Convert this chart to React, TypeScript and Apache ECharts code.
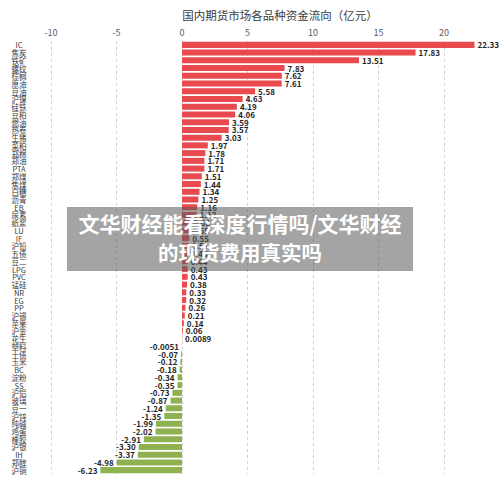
import React, { useEffect, useRef } from "react";
import * as echarts from "echarts";

const categories = [
  "IC", "焦炭", "铁矿", "螺纹", "棕榈", "原油", "豆油", "沪镍", "硅铁", "豆粕",
  "燃油", "热卷", "生猪", "菜粕", "郑棉", "郑油", "PTA", "郑煤", "焦煤", "白糖",
  "沥青", "EB", "尿素", "纸浆", "LU", "IF", "沪铅", "五债", "豆二", "LPG",
  "PVC", "锰硅", "NR", "EG", "PP", "沪锡", "苹果", "沪金", "花生", "塑料",
  "十债", "玉米", "BC", "淀粉", "SS", "沪铝", "玻璃", "豆一", "沪锌", "纯碱",
  "鸡蛋", "橡胶", "沪银", "IH", "郑醇", "沪铜",
];

const values = [
  22.33, 17.83, 13.51, 7.83, 7.62, 7.61, 5.58, 4.63, 4.19, 4.06,
  3.59, 3.57, 3.03, 1.97, 1.78, 1.71, 1.71, 1.51, 1.44, 1.34,
  1.25, 1.16, 1.12, 0.63, 0.55, 0.55, 0.51, 0.45, 0.44, 0.43,
  0.43, 0.38, 0.33, 0.32, 0.26, 0.21, 0.14, 0.06, 0.0089, -0.0051,
  -0.07, -0.12, -0.18, -0.34, -0.35, -0.73, -0.87, -1.24, -1.35, -1.99,
  -2.02, -2.91, -3.3, -3.37, -4.98, -6.23,
];

const xTicks = { min: -10, max: 25, interval: 5 };

const titleText = "国内期货市场各品种资金流向（亿元）";
const watermarkLines = ["文华财经能看深度行情吗/文华财经", "的现货费用真实吗"];

const FONT = "'Noto Sans CJK SC', 'Noto Sans', sans-serif";
const RED = "#E84A4F";
const GREEN = "#8DB24F";

function fmt(v: number): string {
  if (Math.abs(v) >= 0.01) return v.toFixed(2);
  return String(v);
}

export default function App() {
  const ref = useRef<HTMLDivElement>(null);

  useEffect(() => {
    document.body.style.margin = "0";
    document.body.style.overflow = "hidden";
    if (!ref.current) return;
    const chart = echarts.init(ref.current, undefined, { renderer: "svg" });
    chart.setOption({
      animation: false,
      backgroundColor: "#ffffff",
      textStyle: { fontFamily: FONT },
      grid: {
        left: 51,
        right: 2.5,
        top: 41,
        bottom: 5,
        containLabel: false,
        outerBoundsMode: "none",
      },
      xAxis: {
        type: "value",
        position: "top",
        min: xTicks.min,
        max: xTicks.max,
        interval: xTicks.interval,
        axisLine: { show: false },
        axisTick: { show: false },
        axisLabel: {
          color: "#595959",
          fontSize: 9,
          margin: 4,
          showMaxLabel: false,
          fontFamily: FONT,
        },
        splitLine: {
          show: true,
          lineStyle: { color: "#D0D0D0", type: [3, 3], width: 1 },
        },
      },
      yAxis: {
        type: "category",
        data: categories,
        inverse: true,
        axisLine: { show: false },
        axisTick: { show: false },
        axisLabel: {
          interval: 0,
          color: "#3a3a3a",
          fontSize: 7.5,
          lineHeight: 8,
          align: "center",
          margin: 32,
          fontFamily: FONT,
        },
        splitLine: { show: false },
      },
      series: [
        {
          type: "bar",
          data: values.map((v) => ({
            value: v,
            itemStyle: { color: v >= 0 ? RED : GREEN },
            label: { position: v >= 0 ? "right" : "left" },
          })),
          barCategoryGap: "22%",
          label: {
            show: true,
            distance: 3,
            fontSize: 8,
            lineHeight: 8,
            fontWeight: "bold",
            color: "#262626",
            fontFamily: FONT,
            formatter: (p: any) => fmt(p.value),
          },
        },
      ],
      graphic: [
        {
          type: "text",
          x: 280,
          y: 15,
          style: {
            text: titleText,
            fontSize: 11.5,
            fontFamily: FONT,
            fill: "#3a3a3a",
            align: "center",
            verticalAlign: "middle",
          },
        },
        {
          type: "rect",
          z: 100,
          shape: { x: 67, y: 207, width: 346, height: 64 },
          style: { fill: "rgba(90,90,90,0.55)" },
        },
        {
          type: "text",
          z: 101,
          x: 240,
          y: 223,
          style: {
            text: watermarkLines[0],
            fontSize: 21,
            fontWeight: "bold",
            fontFamily: FONT,
            fill: "#ffffff",
            align: "center",
            verticalAlign: "middle",
          },
        },
        {
          type: "text",
          z: 101,
          x: 240,
          y: 252,
          style: {
            text: watermarkLines[1],
            fontSize: 20.5,
            fontWeight: "bold",
            fontFamily: FONT,
            fill: "#ffffff",
            align: "center",
            verticalAlign: "middle",
          },
        },
      ],
    });
    return () => chart.dispose();
  }, []);

  return (
    <div style={{ width: 500, height: 479, overflow: "hidden", position: "relative" }}>
      <div ref={ref} style={{ width: 512, height: 479 }} />
    </div>
  );
}
